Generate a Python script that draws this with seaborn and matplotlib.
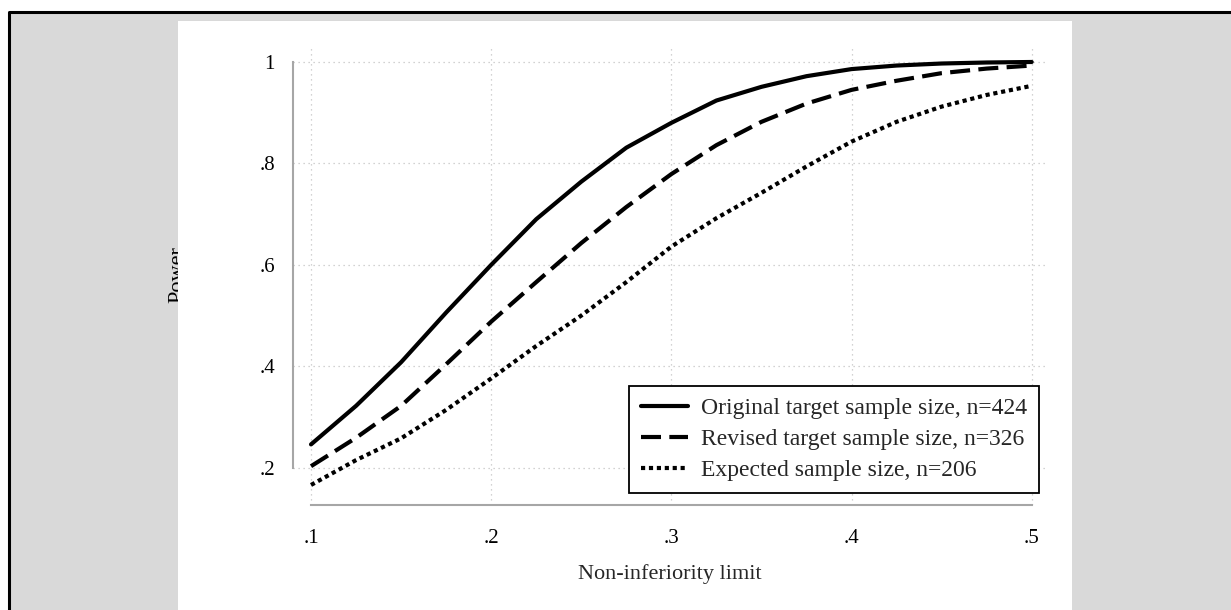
import matplotlib
matplotlib.use("Agg")
import matplotlib.pyplot as plt
from matplotlib.patches import Rectangle
from matplotlib.lines import Line2D
import seaborn as sns

# ---- data ----
limits = [0.1, 0.125, 0.15, 0.175, 0.2, 0.225, 0.25, 0.275, 0.3,
          0.325, 0.35, 0.375, 0.4, 0.425, 0.45, 0.475, 0.5]
power_original = [0.246, 0.322, 0.408, 0.506, 0.600, 0.690, 0.764, 0.831, 0.880,
                  0.924, 0.951, 0.972, 0.986, 0.993, 0.997, 0.999, 1.000]
power_revised = [0.203, 0.259, 0.322, 0.404, 0.488, 0.566, 0.643, 0.714, 0.779,
                 0.836, 0.882, 0.918, 0.945, 0.963, 0.978, 0.987, 0.993]
power_expected = [0.166, 0.215, 0.258, 0.314, 0.376, 0.440, 0.500, 0.566, 0.636,
                  0.692, 0.742, 0.794, 0.843, 0.882, 0.912, 0.935, 0.953]
series_labels = ["Original target sample size, n=424",
                 "Revised target sample size, n=326",
                 "Expected sample size, n=206"]
x_ticks = [0.1, 0.2, 0.3, 0.4, 0.5]
x_ticklabels = [".1", ".2", ".3", ".4", ".5"]
y_ticks = [0.2, 0.4, 0.6, 0.8, 1.0]
y_ticklabels = [".2", ".4", ".6", ".8", "1"]

sns.set_theme(style="white")
plt.rcParams['font.family'] = ['Liberation Serif', 'DejaVu Serif']

W, H = 1231, 610
fig = plt.figure(figsize=(W / 100, H / 100), dpi=100)
fig.patch.set_facecolor("white")

def px_rect(x0, y0, x1, y1, **kw):
    return Rectangle((x0 / W, 1 - y1 / H), (x1 - x0) / W, (y1 - y0) / H,
                     transform=fig.transFigure, **kw)

fig.patches.append(px_rect(9, 12, W, H, facecolor="#d9d9d9", edgecolor="none", zorder=-5))
fig.lines.append(Line2D([9 / W, 9 / W, 1], [0, 1 - 12 / H, 1 - 12 / H],
                        transform=fig.transFigure, color="black", lw=2.2, zorder=-4))
fig.text(177.5 / W, 1 - 275 / H, "Power", rotation=90, ha="center", va="center",
         fontsize=16, color="black", zorder=-3)
fig.patches.append(px_rect(178, 21, 1072, H, facecolor="white", edgecolor="none", zorder=-2))

ax = fig.add_axes([293 / W, (H - 505) / H, (1047 - 293) / W, 460 / H])
ax.set_facecolor("none")

series = [power_original, power_revised, power_expected]
for vals, lab in zip(series, series_labels):
    sns.lineplot(x=limits, y=vals, ax=ax, color="black", lw=3, label=lab)

lines = ax.get_lines()
lines[0].set_linestyle("-")
lines[1].set_dashes((4.8, 2.0))
lines[1].set_dash_capstyle("butt")
lines[2].set_dashes((1.0, 0.9))
lines[2].set_dash_capstyle("butt")

ax.set_xlim(0.09, 0.5085)
ax.set_ylim(0.1265, 1.0335)
ax.set_xticks(x_ticks)
ax.set_xticklabels(x_ticklabels)
ax.set_yticks(y_ticks)
ax.set_yticklabels(y_ticklabels)
ax.set_xlabel("Non-inferiority limit", fontsize=16, labelpad=12)
ax.set_ylabel("")

spine_col = "#a6a6a6"
for s in ["top", "right"]:
    ax.spines[s].set_visible(False)
ax.spines["left"].set_bounds(0.2, 1.0)
ax.spines["bottom"].set_bounds(0.1, 0.5)
for s in ["left", "bottom"]:
    ax.spines[s].set_color(spine_col)
    ax.spines[s].set_linewidth(1.5)
ax.tick_params(axis="both", which="major", length=8, width=1.5, color=spine_col,
               labelsize=15, labelcolor="black", direction="out")
ax.tick_params(axis="x", pad=9)
ax.tick_params(axis="y", pad=5)

ax.grid(True, which="major", linestyle=(0, (1, 3)), color="#c4c4c4", lw=0.9)
ax.set_axisbelow(True)

leg = ax.legend(loc="lower right", bbox_to_anchor=((1039 - 293) / 754, (505 - 493) / 460),
                borderaxespad=0, fontsize=17, frameon=True, fancybox=False,
                handlelength=2.0, handletextpad=0.55, labelspacing=0.4,
                borderpad=0.5)
leg.get_frame().set_edgecolor("black")
leg.get_frame().set_linewidth(1.3)
leg.get_frame().set_facecolor("white")
leg.get_frame().set_alpha(1)

fig.savefig("out.png", dpi=100)
